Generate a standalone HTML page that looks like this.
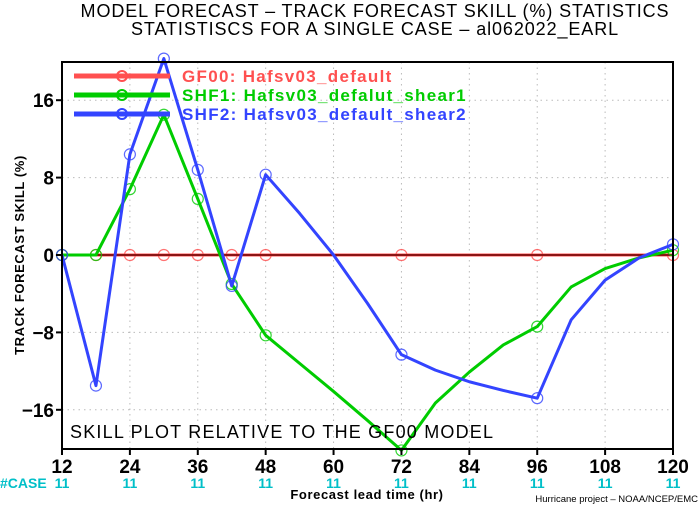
<!DOCTYPE html>
<html><head><meta charset="utf-8"><style>
body{margin:0;background:#fff;}
svg{display:block;font-family:"Liberation Sans",sans-serif;}
</style></head><body>
<svg id="chart" width="700" height="506" viewBox="0 0 700 506">
<text x="375" y="17" text-anchor="middle" font-size="18" letter-spacing="0.9">MODEL FORECAST – TRACK FORECAST SKILL (%) STATISTICS</text>
<text x="375" y="35" text-anchor="middle" font-size="18" letter-spacing="0.9">STATISTISCS FOR A SINGLE CASE – al062022_EARL</text>
<g id="grid"></g>
<g id="series"></g>
<rect x="62" y="62" width="611" height="387" fill="none" stroke="#000" stroke-width="2"/>
<g id="axes"></g>
<text transform="translate(24,255) rotate(-90)" text-anchor="middle" font-size="13" font-weight="bold" letter-spacing="0.6">TRACK FORECAST SKILL (%)</text>
<text x="367" y="499" text-anchor="middle" font-size="13" font-weight="bold" letter-spacing="0.6">Forecast lead time (hr)</text>
<text x="698" y="502" text-anchor="end" font-size="9.5">Hurricane project – NOAA/NCEP/EMC</text>
<text x="0" y="488" font-size="14" font-weight="bold" fill="#00bfc8">#CASE</text>
<text x="70" y="438" font-size="18" letter-spacing="1.2">SKILL PLOT RELATIVE TO THE GF00 MODEL</text>
<g id="legend"></g>
</svg>
<script>
const hours=[12,18,24,30,36,42,48,54,60,66,72,78,84,90,96,102,108,114,120];
const markerHours=[12,18,24,30,36,42,48,72,96,120];
const gf00=[0,0,0,0,0,0,0,0,0,0,0,0,0,0,0,0,0,0,0];
const shf1=[0,0,6.8,14.5,5.8,-3,-8.3,-11.2,-14.1,-17.1,-20.2,-15.3,-12.1,-9.3,-7.4,-3.3,-1.4,-0.3,0.5];
const shf2=[0,-13.5,10.4,20.3,8.8,-3.2,8.3,4.3,0,-5,-10.3,-11.9,-13.1,-14,-14.8,-6.7,-2.6,-0.3,1.1];
const xTicks=[12,24,36,48,60,72,84,96,108,120];
const yTicks=[-16,-8,0,8,16];
const caseCounts=[11,11,11,11,11,11,11,11,11,11];
const legendNames=["GF00: Hafsv03_default","SHF1: Hafsv03_defalut_shear1","SHF2: Hafsv03_default_shear2"];
const NS="http://www.w3.org/2000/svg";
const X=h=>62+(h-12)/108*611;
const Y=v=>255-v*9.675;
function mk(tag,attrs,parent){const e=document.createElementNS(NS,tag);for(const k in attrs)e.setAttribute(k,attrs[k]);parent.appendChild(e);return e;}
const grid=document.getElementById('grid'),axes=document.getElementById('axes'),ser=document.getElementById('series'),leg=document.getElementById('legend');
xTicks.forEach((t,i)=>{
 const l=mk('line',{x1:X(t),x2:X(t),y1:62,y2:449,stroke:'#bbb','stroke-dasharray':'1.5 4'},grid);
 
 const tk=mk('line',{x1:X(t),x2:X(t),y1:449,y2:455,stroke:'#000','stroke-width':2},axes);
 
 const tx=mk('text',{x:X(t),y:473,'text-anchor':'middle','font-size':19,'font-weight':'bold'},axes);tx.textContent=t;
 
 const c=mk('text',{x:X(t),y:488,'text-anchor':'middle','font-size':14,'font-weight':'bold',fill:'#00bfc8'},axes);c.textContent=caseCounts[i];
 
});
yTicks.forEach(t=>{
 if(t!==0){const l=mk('line',{x1:62,x2:673,y1:Y(t),y2:Y(t),stroke:'#bbb','stroke-dasharray':'1.5 4'},grid);
 }
 const tk=mk('line',{x1:56,x2:62,y1:Y(t),y2:Y(t),stroke:'#000','stroke-width':2},axes);
 
 const tx=mk('text',{x:54,y:Y(t)+7,'text-anchor':'end','font-size':19,'font-weight':'bold'},axes);tx.textContent=t<0?'−'+(-t):t;
 
});
const series=[[gf00,'#ff5050','gf00'],[shf1,'#00cc00','shf1'],[shf2,'#3344ff','shf2']];
series.forEach(([vals,col,nm],si)=>{
 const pts=hours.map((h,i)=>X(h)+','+Y(vals[i])).join(' ');
 const pl=mk('polyline',{points:pts,fill:'none',stroke:col,'stroke-width':3,'stroke-linejoin':'round'},ser);
 
 hours.forEach((h,i)=>{if(markerHours.includes(h)){
  const c=mk('circle',{cx:X(h),cy:Y(vals[i]),r:5.5,fill:'none',stroke:col,'stroke-width':1.2,opacity:0.8},ser);
  }});
 if(si===0){const z=mk('line',{x1:62,x2:673,y1:Y(0),y2:Y(0),stroke:'#600','stroke-width':1.5},ser);
  }
 const ly=76+si*19;
 const ll=mk('line',{x1:74,x2:170,y1:ly,y2:ly,stroke:col,'stroke-width':5},leg);
 
 const lc=mk('circle',{cx:122,cy:ly,r:5,fill:'none',stroke:col,'stroke-width':2},leg);
 
 const lt=mk('text',{x:182,y:ly+6,'font-size':17,'font-weight':'bold','letter-spacing':1.3,fill:col},leg);lt.textContent=legendNames[si];
 
});
</script>
</body></html>
